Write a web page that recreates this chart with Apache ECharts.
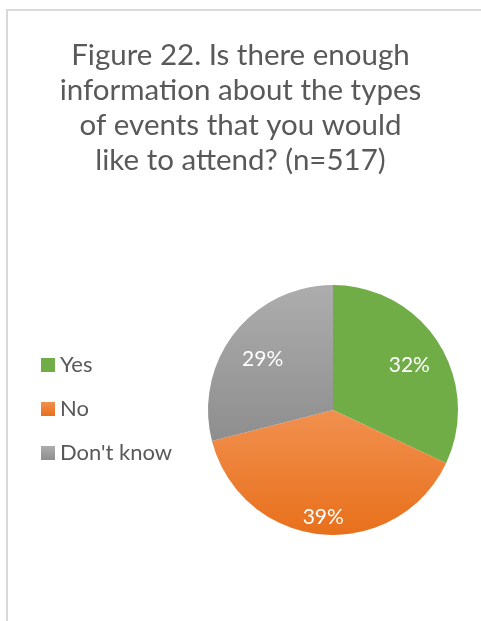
<!DOCTYPE html>
<html lang="en" style="height: 100%">
<head>
  <meta charset="utf-8">
</head>
<body style="height: 100%; margin: 0">
  <div id="container" style="width: 481px; height: 621px"></div>

  <script type="text/javascript" src="https://fastly.jsdelivr.net/npm/echarts@6/dist/echarts.min.js"></script>

  <script type="text/javascript">
    var categories = ['Yes', 'No', "Don't know"];
    var percents = [32, 39, 29];
    var titleText = 'Figure 22. Is there enough\ninformation about the types\nof events that you would\nlike to attend? (n=517)';

    var colors = [
      '#70AD47',
      new echarts.graphic.LinearGradient(0, 0, 0, 1, [
        { offset: 0, color: '#F1904F' },
        { offset: 1, color: '#E8701B' }
      ]),
      new echarts.graphic.LinearGradient(0, 0, 0, 1, [
        { offset: 0, color: '#ADADAD' },
        { offset: 1, color: '#8E8E8E' }
      ])
    ];

    // pie geometry in px, labels pushed outwards like Excel's best fit
    var CX = 333, CY = 410, R = 125;
    var labelRatio = [0.69, 0.79, 0.68];

    var dom = document.getElementById('container');
    var myChart = echarts.init(dom, null, { renderer: 'canvas' });

    var option = {
      animation: false,
      backgroundColor: '#fff',
      textStyle: { fontFamily: 'Lato' },
      graphic: [{
        type: 'rect',
        shape: { x: 7, y: 10, width: 520, height: 700 },
        style: { fill: 'none', stroke: '#D9D9D9', lineWidth: 2 },
        silent: true
      }],
      title: {
        text: titleText,
        left: 'center',
        top: 33,
        textStyle: {
          fontFamily: 'Lato',
          fontSize: 29.5,
          fontWeight: 'normal',
          color: '#595959',
          lineHeight: 35
        }
      },
      legend: {
        orient: 'vertical',
        left: 36,
        top: 349,
        itemWidth: 14,
        itemHeight: 14,
        itemGap: 22,
        icon: 'rect',
        textStyle: { fontFamily: 'Lato', fontSize: 22, color: '#595959', lineHeight: 22 },
        data: categories
      },
      series: [{
        type: 'pie',
        center: [CX, CY],
        radius: R,
        startAngle: 90,
        clockwise: true,
        silent: true,
        label: {
          position: 'inside',
          formatter: '{c}%',
          color: '#fff',
          fontFamily: 'Lato',
          fontSize: 21
        },
        labelLine: { show: false },
        labelLayout: function (p) {
          var r = p.labelRect;
          var lx = r.x + r.width / 2, ly = r.y + r.height / 2;
          var k = labelRatio[p.dataIndex] / 0.5;
          return { dx: (lx - CX) * (k - 1), dy: (ly - CY) * (k - 1) + 4 };
        },
        itemStyle: { borderColor: '#fff', borderWidth: 0 },
        data: categories.map(function (name, i) {
          return { name: name, value: percents[i], itemStyle: { color: colors[i] } };
        })
      }]
    };

    myChart.setOption(option);
    window.addEventListener('resize', myChart.resize);
  </script>
</body>
</html>
